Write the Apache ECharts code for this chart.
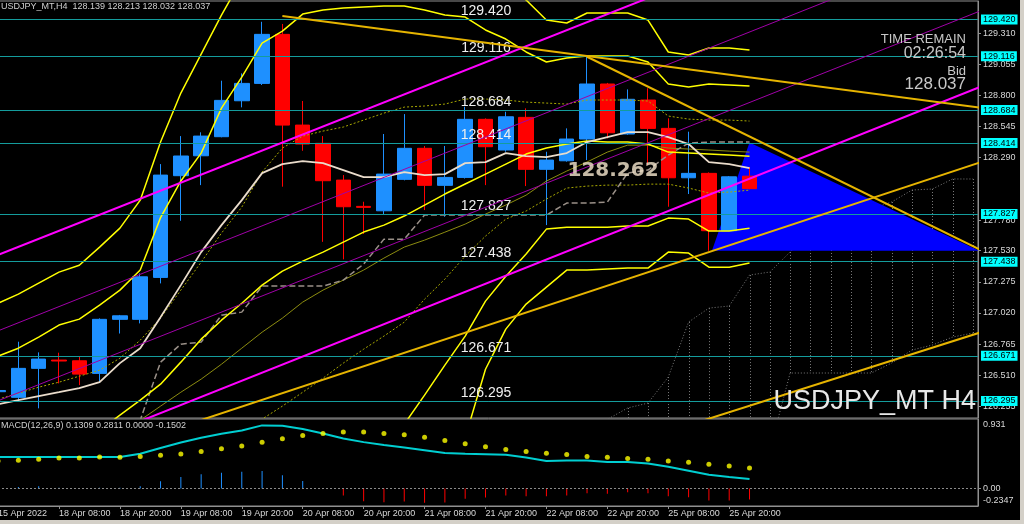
<!DOCTYPE html>
<html><head><meta charset="utf-8"><title>USDJPY_MT H4</title>
<script src="https://cdn.jsdelivr.net/npm/echarts@6.0.0/dist/echarts.min.js"></script>
<style>html,body{margin:0;padding:0;background:#000;overflow:hidden}#chart{width:1024px;height:524px}</style>
</head><body><div id="chart"></div>
<script>
// Bar index: 0 = 18 Apr 08:00 (H4). First visible bar (15 Apr 20:00) = -3.
const FIRST_BAR = -3;
const timeTickBars = [-3, 0, 3, 6, 9, 12, 15, 18, 21, 24, 27, 30, 33];
const timeTickLabels = ['15 Apr 2022','18 Apr 08:00','18 Apr 20:00','19 Apr 08:00','19 Apr 20:00','20 Apr 08:00','20 Apr 20:00','21 Apr 08:00','21 Apr 20:00','22 Apr 08:00','22 Apr 20:00','25 Apr 08:00','25 Apr 20:00'];
const priceTicks = [129.310,129.055,128.800,128.545,128.290,127.780,127.530,127.275,127.020,126.765,126.510,126.255];

const opens  = [126.376,126.330,126.567,126.635,126.629,126.526,126.968,126.968,127.311,128.143,128.306,128.462,128.756,128.898,129.299,128.557,128.408,128.107,127.892,127.856,128.113,128.367,128.064,128.129,128.604,128.353,128.620,128.195,128.265,128.443,128.893,128.484,128.762,128.530,128.126,128.162,127.693,128.139];
const closes = [126.386,126.567,126.643,126.627,126.520,126.968,126.997,127.316,128.148,128.304,128.467,128.759,128.898,129.299,128.557,128.402,128.102,127.889,127.884,128.156,128.367,128.064,128.129,128.604,128.380,128.625,128.195,128.271,128.443,128.893,128.494,128.768,128.530,128.126,128.162,127.693,128.134,128.037];
const lows   = [126.360,126.294,126.240,126.444,126.430,126.457,126.852,126.935,127.262,127.774,128.066,128.457,128.702,128.885,128.053,128.347,127.602,127.459,127.666,127.829,128.105,127.862,127.807,128.120,128.066,128.339,128.058,127.739,128.258,128.271,128.448,128.478,128.230,127.889,127.993,127.529,127.690,128.032];
const highs  = [126.400,126.785,126.698,126.695,126.662,126.976,127.004,127.344,128.238,128.467,128.498,128.920,128.980,129.402,129.384,128.754,128.467,128.148,127.930,128.484,128.647,128.386,128.386,128.707,128.612,128.666,128.694,128.339,128.530,129.116,128.902,128.849,128.858,128.612,128.503,128.170,128.140,128.213];

// Indicator lines, one value per bar from FIRST_BAR
const bbUpper3 = [127.100,127.174,127.264,127.354,127.411,127.559,127.714,127.943,128.418,128.819,129.138,129.457,129.75,129.95,130.05,130.10,130.10,130.08,130.05,130.00,129.95,129.90,129.85,129.80,129.75,129.70,129.58,129.416,129.392,129.474,129.474,129.474,129.416,129.155,129.130,129.187,129.187,129.171];
const bbUpper2 = [126.667,126.732,126.822,126.921,126.970,127.084,127.207,127.371,127.80,128.10,128.328,128.696,128.95,129.228,129.326,129.465,129.498,129.514,129.523,129.531,129.531,129.498,129.457,129.441,129.335,129.261,129.155,129.073,129.105,129.122,129.122,129.122,129.073,128.893,128.868,128.893,128.885,128.876];
const bbMid    = [125.45,125.56,125.68,125.81,125.94,126.06,126.184,126.307,126.438,126.618,126.806,126.961,127.10,127.248,127.362,127.444,127.518,127.60,127.682,127.739,127.813,127.902,127.993,128.075,128.156,128.238,128.320,128.369,128.402,128.426,128.418,128.418,128.402,128.336,128.328,128.320,128.312,128.303];
const bbLower2 = [125.90,125.88,125.86,125.84,125.80,125.74,125.66,125.58,125.45,125.30,125.15,125.00,124.90,124.85,124.90,125.00,125.15,125.35,125.636,125.874,126.11,126.348,126.593,126.831,127.117,127.321,127.502,127.706,127.722,127.722,127.722,127.731,127.731,127.796,127.788,127.690,127.690,127.714];
const bbLower3 = [125.60,125.58,125.56,125.54,125.50,125.44,125.36,125.26,125.10,124.90,124.70,124.50,124.35,124.25,124.25,124.30,124.40,124.55,124.75,125.00,125.25,125.50,125.75,126.00,126.56,126.888,127.093,127.232,127.371,127.371,127.379,127.387,127.387,127.518,127.510,127.395,127.395,127.428];
const maLine   = [126.274,126.307,126.340,126.372,126.405,126.454,126.61,126.732,126.986,127.248,127.518,127.739,127.943,128.164,128.238,128.263,128.246,128.189,128.132,128.132,128.173,128.148,128.156,128.246,128.254,128.328,128.303,128.295,128.328,128.418,128.459,128.500,128.500,128.459,128.402,128.254,128.238,128.205];
const kijun    = [125.6,125.6,125.6,125.6,125.6,125.6,125.74,126.143,126.618,126.765,126.782,127.002,127.027,127.240,127.240,127.240,127.240,127.289,127.42,127.624,127.624,127.821,127.821,127.821,127.821,127.821,127.821,127.821,127.919,127.919,127.927,128.165,128.189,128.312,128.41,128.418,128.418,128.418];
const envUpper = [126.315,126.364,126.413,126.454,126.503,126.552,126.65,126.798,126.978,127.207,127.436,127.673,127.886,128.173,128.369,128.467,128.508,128.541,128.598,128.655,128.704,128.713,128.729,128.770,128.770,128.762,128.745,128.737,128.729,128.762,128.762,128.762,128.754,128.631,128.606,128.598,128.598,128.590];
const envLower = [125.5,125.5,125.5,125.5,125.55,125.6,125.65,125.7,125.75,125.8,125.85,125.9,126.045,126.152,126.258,126.372,126.487,126.61,126.724,126.831,126.945,127.133,127.297,127.485,127.649,127.788,127.854,127.952,128.042,128.058,128.066,128.066,128.074,128.074,128.042,128.001,128.009,128.025];
const oliveLine = [125.4,125.45,125.5,125.55,125.6,125.7,125.85,126.143,126.258,126.372,126.479,126.601,126.732,126.863,126.978,127.109,127.207,127.289,127.371,127.469,127.559,127.616,127.681,127.747,127.829,127.903,127.984,128.099,128.181,128.255,128.336,128.393,128.393,128.369,128.361,128.353,128.344,128.336];

// Ichimoku cloud (projected ahead), from bar CLOUD_START
const CLOUD_START = 26;
const spanA = [125.95,126.15,126.243,126.283,126.496,126.946,127.060,127.077,127.330,127.355,127.519,127.682,127.707,127.805,127.870,127.928,128.026,128.034,128.116,128.116];
const spanB = [125.9,125.9,125.9,125.9,125.9,125.9,125.9,125.9,125.9,125.9,126.529,126.529,126.529,126.529,126.529,126.611,126.717,126.758,126.823,126.856];

// Drawn objects
const levels = [129.420,129.116,128.684,128.414,127.827,127.438,126.671,126.295];
const bidPrice = 128.037;
const magentaThick = [[[-4,127.429],[46,130.712]], [[-4,125.606],[46,128.912]]];
const magentaThin  = [[[-4,126.808],[46,130.111]], [[-4,126.236],[46,129.533]]];
const goldLines    = [[[11,129.449],[46,128.685]], [[26,129.116],[46,127.485]], [[-4,125.54],[46,128.287]], [[30,126.05],[46,126.894]]];
const triangle     = [[34,128.414],[32.15,127.530],[45.3,127.530]];
const priceNote    = {bar: 27.28, price: 128.18, text: '128.262'};

// MACD(12,26,9)
const macdMain   = [0.436,0.436,0.436,0.436,0.436,0.436,0.436,0.48,0.56,0.635,0.70,0.755,0.80,0.871,0.866,0.82,0.76,0.69,0.64,0.60,0.565,0.529,0.49,0.478,0.473,0.466,0.427,0.38,0.388,0.385,0.366,0.366,0.344,0.30,0.245,0.19,0.158,0.131];
const macdSignal = [0.38,0.390,0.404,0.422,0.422,0.436,0.432,0.441,0.459,0.477,0.511,0.547,0.588,0.640,0.686,0.733,0.760,0.779,0.779,0.760,0.741,0.709,0.663,0.616,0.575,0.538,0.511,0.487,0.469,0.441,0.432,0.414,0.404,0.380,0.362,0.334,0.311,0.283];
const macdHist   = [0.03,0.02,0.03,0.01,0.005,0.01,0.01,0.03,0.10,0.158,0.196,0.219,0.233,0.242,0.182,0.103,0.005,-0.096,-0.175,-0.189,-0.179,-0.197,-0.193,-0.142,-0.124,-0.096,-0.105,-0.105,-0.096,-0.064,-0.073,-0.05,-0.064,-0.105,-0.119,-0.165,-0.165,-0.150];
const macdTicks  = [0.931, 0, -0.2347];

const FONT_N = "'Liberation Sans',Arial,sans-serif";
const FONT = "'Liberation Sans',Arial,sans-serif";
const X_MIN = -3.2, X_MAX = 45.25;
const toXY = (arr, start) => arr.map((v, i) => [start + i, v]);

function lineSeries(values, start, color, width, type, z) {
  return {type: 'line', xAxisIndex: 0, yAxisIndex: 0, data: toXY(values, start), showSymbol: false, symbol: 'none',
    lineStyle: {color: color, width: width, type: type || 'solid'}, z: z, silent: true, clip: true};
}
function segSeries(seg, color, width, z) {
  return {type: 'line', xAxisIndex: 0, yAxisIndex: 0, data: seg, showSymbol: false, symbol: 'none',
    lineStyle: {color: color, width: width}, z: z, silent: true, clip: true};
}

const series = [];
// cloud hatch (vertical dotted lines)
series.push({type: 'custom', xAxisIndex: 0, yAxisIndex: 0, clip: true, z: 1, silent: true,
  data: spanA.map((a, i) => [CLOUD_START + i, a, spanB[i]]), encode: {x: 0, y: [1, 2]},
  renderItem: (p, api) => {
    const x = api.value(0);
    const a = api.coord([x, api.value(1)]), b = api.coord([x, api.value(2)]);
    const px = Math.round(a[0]) + 0.5;
    return {type: 'line', shape: {x1: px, y1: a[1], x2: px, y2: b[1]}, style: {stroke: '#7a7a7a', lineWidth: 1, lineDash: [1, 2]}};
  }});
series.push(lineSeries(spanA, CLOUD_START, '#7a7a7a', 1, [1, 2], 1));
series.push(lineSeries(spanB, CLOUD_START, '#7a7a7a', 1, [1, 2], 1));
// blue triangle
series.push({type: 'custom', xAxisIndex: 0, yAxisIndex: 0, clip: true, z: 2, silent: true,
  data: [triangle[0]], encode: {x: 0, y: 1},
  renderItem: (p, api) => ({type: 'polygon', shape: {points: triangle.map(pt => api.coord(pt))}, style: {fill: '#0000FF'}})});
// candles
series.push({type: 'candlestick', xAxisIndex: 0, yAxisIndex: 0, z: 3, silent: true, barWidth: 15,
  data: opens.map((o, i) => [FIRST_BAR + i, o, closes[i], lows[i], highs[i]]),
  itemStyle: {color: '#1E90FF', color0: '#FF0000', borderColor: '#1E90FF', borderColor0: '#FF0000', borderWidth: 1}});
// indicators
series.push(lineSeries(envUpper, FIRST_BAR, '#A8A800', 1, [2, 2], 4));
series.push(lineSeries(envLower, FIRST_BAR, '#A8A800', 1, [2, 2], 4));
series.push(lineSeries(oliveLine, FIRST_BAR, '#8C8C10', 1, 'solid', 4));
series.push(lineSeries(kijun, FIRST_BAR, '#9A9088', 1.5, [6, 3], 4));
series.push(lineSeries(bbUpper3, FIRST_BAR, '#FFFF00', 1.5, 'solid', 4));
series.push(lineSeries(bbUpper2, FIRST_BAR, '#FFFF00', 1.5, 'solid', 4));
series.push(lineSeries(bbMid, FIRST_BAR, '#FFFF00', 1.5, 'solid', 4));
series.push(lineSeries(bbLower2, FIRST_BAR, '#FFFF00', 1.5, 'solid', 4));
series.push(lineSeries(bbLower3, FIRST_BAR, '#FFFF00', 1.5, 'solid', 4));
series.push(lineSeries(maLine, FIRST_BAR, '#EADCCB', 1.8, 'solid', 4));
// trend lines
magentaThin.forEach(s => series.push(segSeries(s, '#A000A8', 1, 5)));
magentaThick.forEach(s => series.push(segSeries(s, '#FF00FF', 2, 5)));
goldLines.forEach(s => series.push(segSeries(s, '#E6B400', 2, 5)));
// horizontal levels
const levelMarks = [];
levels.forEach(v => {
  levelMarks.push({yAxis: v, label: {show: true, position: 'insideMiddleTop', distance: 1, formatter: v.toFixed(3), color: '#F0F0F0', fontSize: 14, fontFamily: FONT}});
  levelMarks.push({yAxis: v, label: {show: true, position: 'end', distance: 3, formatter: v.toFixed(3), color: '#000', backgroundColor: '#00FFFF', fontSize: 9, fontFamily: FONT_N, padding: [1, 2, 0, 2]}});
});
levelMarks.push({yAxis: bidPrice, lineStyle: {opacity: 0}, label: {show: true, position: 'end', distance: 3, formatter: bidPrice.toFixed(3), color: '#000', backgroundColor: '#FFFFFF', fontSize: 9, fontFamily: FONT_N, padding: [1, 2, 0, 2]}});
series.push({type: 'line', xAxisIndex: 0, yAxisIndex: 0, data: [], z: 6, silent: true,
  markLine: {silent: true, symbol: 'none', animation: false, lineStyle: {color: '#149C9C', width: 1, type: 'solid'}, data: levelMarks}});
// price note
series.push({type: 'scatter', xAxisIndex: 0, yAxisIndex: 0, z: 7, silent: true, symbolSize: 1, itemStyle: {color: 'rgba(0,0,0,0)'},
  data: [[priceNote.bar, priceNote.price]],
  label: {show: true, position: 'inside', formatter: priceNote.text, color: '#F7E8CF', fontWeight: 'bold', fontSize: 20, fontFamily: "'DejaVu Sans',sans-serif"}});
// MACD
series.push({type: 'bar', xAxisIndex: 1, yAxisIndex: 1, barWidth: 1, silent: true, z: 2,
  data: macdHist.map((v, i) => ({value: [FIRST_BAR + i, v], itemStyle: {color: v >= 0 ? '#1E90FF' : '#FF0000'}})),
  markLine: {silent: true, symbol: 'none', label: {show: false}, lineStyle: {color: '#8a8a8a', type: [2, 2], width: 1}, data: [{yAxis: 0}]}});
series.push({type: 'line', xAxisIndex: 1, yAxisIndex: 1, data: toXY(macdMain, FIRST_BAR), showSymbol: false, symbol: 'none', silent: true, z: 3,
  lineStyle: {color: '#00CED1', width: 2}});
series.push({type: 'scatter', xAxisIndex: 1, yAxisIndex: 1, data: toXY(macdSignal, FIRST_BAR), symbolSize: 5, silent: true, z: 4,
  itemStyle: {color: '#FFFF00'}});

const axisGray = '#909090';
const option = {
  backgroundColor: '#000',
  animation: false,
  grid: [
    {left: -6, right: 46, top: 1, height: 417, outerBoundsMode: 'none', containLabel: false, show: true, borderColor: axisGray, borderWidth: 1, backgroundColor: 'transparent'},
    {left: -6, right: 46, top: 419, height: 87, outerBoundsMode: 'none', containLabel: false, show: true, borderColor: axisGray, borderWidth: 1, backgroundColor: 'transparent'}
  ],
  xAxis: [
    {gridIndex: 0, type: 'value', min: X_MIN, max: X_MAX, show: false, splitLine: {show: false}},
    {gridIndex: 1, type: 'value', min: X_MIN, max: X_MAX, position: 'bottom',
      axisLine: {show: true, onZero: false, lineStyle: {color: axisGray}}, splitLine: {show: false},
      axisTick: {show: true, customValues: timeTickBars, length: 3, lineStyle: {color: axisGray}},
      axisLabel: {customValues: timeTickBars, align: 'left', margin: 3, color: '#D8D8D8', fontSize: 9, fontFamily: FONT_N,
        formatter: v => timeTickLabels[timeTickBars.indexOf(Math.round(v))] || ''}}
  ],
  yAxis: [
    {gridIndex: 0, type: 'value', position: 'right', min: 126.161, max: 129.572,
      axisLine: {show: true, onZero: false, lineStyle: {color: axisGray}}, splitLine: {show: false},
      axisTick: {show: true, customValues: priceTicks, length: 3, lineStyle: {color: axisGray}},
      axisLabel: {customValues: priceTicks, formatter: v => v.toFixed(3), color: '#D8D8D8', fontSize: 9, fontFamily: FONT_N, margin: 5}},
    {gridIndex: 1, type: 'value', position: 'right', min: -0.241, max: 0.959,
      axisLine: {show: true, onZero: false, lineStyle: {color: axisGray}}, splitLine: {show: false},
      axisTick: {show: true, customValues: [0], length: 3, lineStyle: {color: axisGray}},
      axisLabel: {customValues: macdTicks, color: '#D8D8D8', fontSize: 9, fontFamily: FONT_N, margin: 5,
        formatter: v => v === 0 ? '0.00' : (v > 0 ? '{t|' + v + '}' : '{b|' + v + '}'),
        rich: {t: {padding: [6, 0, 0, 0], color: '#D8D8D8', fontSize: 9, fontFamily: FONT_N}, b: {padding: [0, 0, 11, 0], color: '#D8D8D8', fontSize: 9, fontFamily: FONT_N}}}}
  ],
  graphic: [
    {type: 'text', x: 1, y: 2, z: 100, style: {text: 'USDJPY_MT,H4  128.139 128.213 128.032 128.037', fill: '#D0D0D0', font: '9px ' + FONT_N}},
    {type: 'text', x: 1, y: 421, z: 100, style: {text: 'MACD(12,26,9) 0.1309 0.2811 0.0000 -0.1502', fill: '#D0D0D0', font: '9px ' + FONT_N}},
    {type: 'text', x: 966, y: 33, z: 100, style: {text: 'TIME REMAIN', fill: '#C8C8C8', font: '13px ' + FONT, align: 'right'}},
    {type: 'text', x: 966, y: 46, z: 100, style: {text: '02:26:54', fill: '#C8C8C8', font: '16px ' + FONT, align: 'right'}},
    {type: 'text', x: 966, y: 65, z: 100, style: {text: 'Bid', fill: '#C8C8C8', font: '13px ' + FONT, align: 'right'}},
    {type: 'text', x: 966, y: 76, z: 100, style: {text: '128.037', fill: '#C8C8C8', font: '17px ' + FONT, align: 'right'}},
    {type: 'text', x: 976, y: 388, z: 100, style: {text: 'USDJPY_MT H4', fill: '#E8E8E8', font: '27px ' + FONT, align: 'right'}},
    {type: 'rect', z: 100, shape: {x: 1020, y: 0, width: 4, height: 524}, style: {fill: '#D4D0C8'}},
    {type: 'rect', z: 100, shape: {x: 0, y: 520, width: 1024, height: 4}, style: {fill: '#D4D0C8'}}
  ],
  series: series
};
const chart = echarts.init(document.getElementById('chart'), null, {renderer: 'canvas'});
chart.setOption(option);
</script></body></html>
